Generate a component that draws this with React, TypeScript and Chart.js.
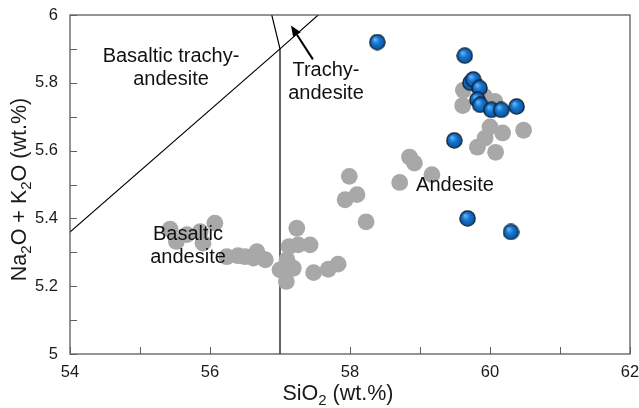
import React, { useEffect, useRef } from 'react';
import { Chart, registerables } from 'chart.js';

Chart.register(...registerables);

// ---- data ----
const grayX = [55.43, 55.52, 55.67, 55.86, 55.90, 56.07, 56.24, 56.40, 56.50, 56.67, 56.62, 56.79, 57.00, 57.10, 57.19, 57.09, 57.24, 57.13, 57.26, 57.43, 57.48, 57.69, 57.83,
  57.99, 57.93, 58.10, 58.23, 58.71, 58.85, 58.92, 59.17,
  59.62, 59.61, 59.92, 60.07, 60.00, 60.18, 60.48, 59.93, 59.82, 60.08];
const grayY = [5.368, 5.332, 5.352, 5.361, 5.327, 5.386, 5.287, 5.290, 5.287, 5.302, 5.283, 5.278, 5.248, 5.278, 5.253, 5.214, 5.371, 5.317, 5.322, 5.322, 5.240, 5.250, 5.265,
  5.524, 5.455, 5.470, 5.390, 5.506, 5.581, 5.563, 5.529,
  5.778, 5.733, 5.760, 5.745, 5.670, 5.652, 5.660, 5.637, 5.610, 5.595];

const blueX = [58.39, 59.64, 59.72, 59.76, 59.85, 59.82, 59.86, 60.02, 60.16, 60.38, 59.49, 59.68, 60.30];
const blueY = [5.920, 5.880, 5.800, 5.810, 5.785, 5.750, 5.735, 5.720, 5.720, 5.730, 5.630, 5.400, 5.360];

// TAS field boundaries
const boundaryAX = [52, 57, 63];
const boundaryAY = [5, 5.9, 7];
const boundaryBX = [57, 57, 53];
const boundaryBY = [4, 5.9, 9.3];

const xMajorTicks = [54, 56, 58, 60, 62];
const xMinorTicks = [55, 57, 59, 61];
const yMajorTicks = [5, 5.2, 5.4, 5.6, 5.8, 6];
const yMinorTicks = [5.1, 5.3, 5.5, 5.7, 5.9];

const fieldLabels = [['Basaltic trachy-', 'andesite'], ['Trachy-', 'andesite'], ['Andesite'], ['Basaltic', 'andesite']];
const fieldLabelX = [55.443, 57.657, 59.5, 55.686];
const fieldLabelY = [5.877, 5.835, 5.496, 5.352];

const arrowFrom = { x: 57.47, y: 5.869 };
const arrowTo = { x: 57.157, y: 5.969 };

const FONT = '"Liberation Sans", Arial, sans-serif';

function makeBall(): HTMLCanvasElement {
  const s = 17;
  const c = document.createElement('canvas');
  c.width = s; c.height = s;
  const g = c.getContext('2d')!;
  const r = 7.6;
  const cx = s / 2, cy = s / 2;
  const grad = g.createRadialGradient(cx - 2.5, cy - 3, 0.5, cx, cy, r);
  grad.addColorStop(0, '#63b5f5');
  grad.addColorStop(0.45, '#1676d0');
  grad.addColorStop(1, '#0a5299');
  g.beginPath();
  g.arc(cx, cy, r, 0, Math.PI * 2);
  g.fillStyle = grad;
  g.fill();
  g.lineWidth = 1.3;
  g.strokeStyle = '#0b1f33';
  g.stroke();
  return c;
}

function drawRich(ctx: CanvasRenderingContext2D, parts: [string, boolean][], size: number, cx: number, cy: number) {
  const big = `${size}px ${FONT}`;
  const small = `${Math.round(size * 0.68)}px ${FONT}`;
  let total = 0;
  for (const [t, sub] of parts) {
    ctx.font = sub ? small : big;
    total += ctx.measureText(t).width;
  }
  let x = cx - total / 2;
  ctx.textAlign = 'left';
  ctx.textBaseline = 'middle';
  for (const [t, sub] of parts) {
    ctx.font = sub ? small : big;
    ctx.fillText(t, x, sub ? cy + size * 0.3 : cy);
    x += ctx.measureText(t).width;
  }
}

const decorPlugin = {
  id: 'decor',
  afterDatasetsDraw(chart: any) {
    const ctx: CanvasRenderingContext2D = chart.ctx;
    const xs = chart.scales.x;
    const ys = chart.scales.y;
    const { left, right, top, bottom } = chart.chartArea;
    ctx.save();
    // frame
    ctx.strokeStyle = '#4d4d4d';
    ctx.lineWidth = 1.2;
    ctx.strokeRect(left, top, right - left, bottom - top);
    // ticks
    ctx.strokeStyle = '#606060';
    ctx.lineWidth = 1;
    ctx.beginPath();
    for (const v of [...xMajorTicks, ...xMinorTicks]) {
      const px = Math.round(xs.getPixelForValue(v)) + 0.5;
      ctx.moveTo(px, bottom);
      ctx.lineTo(px, bottom - 7);
    }
    for (const v of [...yMajorTicks, ...yMinorTicks]) {
      const py = Math.round(ys.getPixelForValue(v)) + 0.5;
      ctx.moveTo(left, py);
      ctx.lineTo(left + 7, py);
    }
    ctx.stroke();

    // tick labels
    ctx.fillStyle = '#1a1a1a';
    ctx.font = `16.5px ${FONT}`;
    ctx.textAlign = 'center';
    ctx.textBaseline = 'middle';
    for (const v of xMajorTicks) {
      ctx.fillText(String(v), xs.getPixelForValue(v), bottom + 18);
    }
    ctx.textAlign = 'right';
    for (const v of yMajorTicks) {
      const lbl = Number.isInteger(v) ? String(v) : v.toFixed(1);
      ctx.fillText(lbl, left - 12, ys.getPixelForValue(v));
    }

    // axis titles
    drawRich(ctx, [['SiO', false], ['2', true], [' (wt.%)', false]], 21.5, (left + right) / 2 - 12, bottom + 40);
    ctx.save();
    ctx.translate(20, (top + bottom) / 2 + 5);
    ctx.rotate(-Math.PI / 2);
    drawRich(ctx, [['Na', false], ['2', true], ['O + K', false], ['2', true], ['O (wt.%)', false]], 21.5, 0, 0);
    ctx.restore();

    // field labels
    ctx.font = `20px ${FONT}`;
    ctx.textAlign = 'center';
    ctx.textBaseline = 'middle';
    ctx.fillStyle = '#111';
    fieldLabels.forEach((lines, i) => {
      const px = xs.getPixelForValue(fieldLabelX[i]);
      const py = ys.getPixelForValue(fieldLabelY[i]);
      lines.forEach((ln, j) => ctx.fillText(ln, px, py + j * 23));
    });

    // arrow
    const x1 = xs.getPixelForValue(arrowFrom.x), y1 = ys.getPixelForValue(arrowFrom.y);
    const x2 = xs.getPixelForValue(arrowTo.x), y2 = ys.getPixelForValue(arrowTo.y);
    const ang = Math.atan2(y2 - y1, x2 - x1);
    const hl = 11, hw = 4.5;
    const bx = x2 - hl * Math.cos(ang), by = y2 - hl * Math.sin(ang);
    ctx.strokeStyle = '#000';
    ctx.lineWidth = 2;
    ctx.beginPath();
    ctx.moveTo(x1, y1);
    ctx.lineTo(bx, by);
    ctx.stroke();
    ctx.fillStyle = '#000';
    ctx.beginPath();
    ctx.moveTo(x2, y2);
    ctx.lineTo(bx + hw * Math.sin(ang), by - hw * Math.cos(ang));
    ctx.lineTo(bx - hw * Math.sin(ang), by + hw * Math.cos(ang));
    ctx.closePath();
    ctx.fill();
    ctx.restore();
  },
};

export default function App() {
  const ref = useRef<HTMLCanvasElement>(null);
  useEffect(() => {
    if (!ref.current) return;
    const ball = makeBall();
    const chart = new Chart(ref.current, {
      type: 'scatter',
      data: {
        datasets: [
          {
            label: 'boundaryA',
            data: boundaryAX.map((x, i) => ({ x, y: boundaryAY[i] })),
            showLine: true,
            borderColor: '#000',
            borderWidth: 1.2,
            pointRadius: 0,
            pointHoverRadius: 0,
            order: 3,
          },
          {
            label: 'boundaryB',
            data: boundaryBX.map((x, i) => ({ x, y: boundaryBY[i] })),
            showLine: true,
            borderColor: '#000',
            borderWidth: 1.2,
            pointRadius: 0,
            pointHoverRadius: 0,
            order: 3,
          },
          {
            label: 'gray',
            data: grayX.map((x, i) => ({ x, y: grayY[i] })),
            backgroundColor: '#a8a8a8',
            borderWidth: 0,
            pointRadius: 8.4,
            order: 2,
          },
          {
            label: 'blue',
            data: blueX.map((x, i) => ({ x, y: blueY[i] })),
            pointStyle: ball as any,
            pointRadius: 8,
            order: 1,
          },
        ],
      },
      options: {
        responsive: false,
        animation: false,
        devicePixelRatio: 1,
        layout: { padding: { left: 70, right: 9, top: 15, bottom: 54 } },
        plugins: { legend: { display: false }, tooltip: { enabled: false } },
        events: [],
        scales: {
          x: { type: 'linear', min: 54, max: 62, display: false },
          y: { type: 'linear', min: 5, max: 6, display: false },
        },
      },
      plugins: [decorPlugin],
    });
    return () => chart.destroy();
  }, []);
  return (
    <div style={{ position: 'absolute', left: 0, top: 0, width: 639, height: 408, background: '#fff' }}>
      <canvas ref={ref} width={639} height={408} />
    </div>
  );
}
